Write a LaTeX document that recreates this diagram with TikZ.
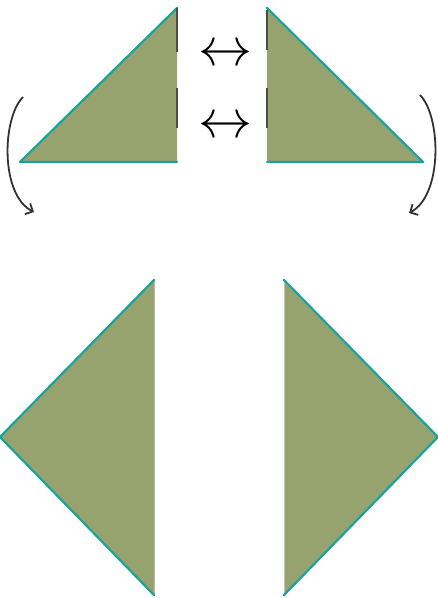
\documentclass[tikz,border=0pt]{standalone}
\usetikzlibrary{arrows.meta}
\definecolor{olivefill}{HTML}{97A36E}
\definecolor{tealedge}{HTML}{1AA39D}
\definecolor{darkedge}{HTML}{4A4F44}
\definecolor{curvecol}{HTML}{333333}
\tikzset{
  x=1pt, y=-1pt,
  tri/.style={fill=olivefill, draw=none},
  tealline/.style={draw=tealedge, line width=2.2pt, line cap=round, line join=round},
  dashseg/.style={draw=darkedge, line width=1.6pt},
  turn/.style={draw=curvecol, line width=1.8pt, -{Straight Barb[length=6pt,width=12pt,line width=1.8pt]}},
  swap/.style={inner sep=0pt, scale=5.4}
}
\begin{document}
\begin{tikzpicture}
\useasboundingbox (0,0) rectangle (438,598);
% top-left triangle
\fill[tri] (177,8) -- (20,162) -- (177,162) -- cycle;
\draw[tealline] (177,8) -- (20,162) -- (177,162);
\draw[dashseg] (177,8) -- (177,52);
\draw[dashseg] (177,88) -- (177,128);
% top-right triangle
\fill[tri] (267,8) -- (423,162) -- (267,162) -- cycle;
\draw[tealline] (267,8) -- (423,162) -- (267,162);
\draw[dashseg] (267,10) -- (267,50);
\draw[dashseg] (267,88) -- (267,128);
% swap arrows
\node[swap] (s1) at (225,55.5) {$\leftrightarrow$};
\node[swap] (s2) at (225,128) {$\leftrightarrow$};
% curved arrows
\coordinate (la) at (23,97);
\coordinate (lb) at (34,212);
\coordinate (ra) at (420,95);
\coordinate (rb) at (409,213);
\draw[turn] (la) .. controls (2,118) and (0,195) .. (lb);
\draw[turn] (ra) .. controls (441,116) and (443,195) .. (rb);
% bottom-left triangle
\fill[tri] (154,280) -- (0,437) -- (154,595) -- cycle;
\draw[draw=olivefill!70!white, line width=0.8pt] (154,280) -- (154,595);
\draw[tealline] (154,280) -- (0,437) -- (154,595);
% bottom-right triangle
\fill[tri] (284,280) -- (438,437) -- (284,595) -- cycle;
\draw[draw=olivefill!60!white, line width=0.8pt] (284,280) -- (284,595);
\draw[tealline] (284,280) -- (438,437) -- (284,595);
\end{tikzpicture}
\end{document}
